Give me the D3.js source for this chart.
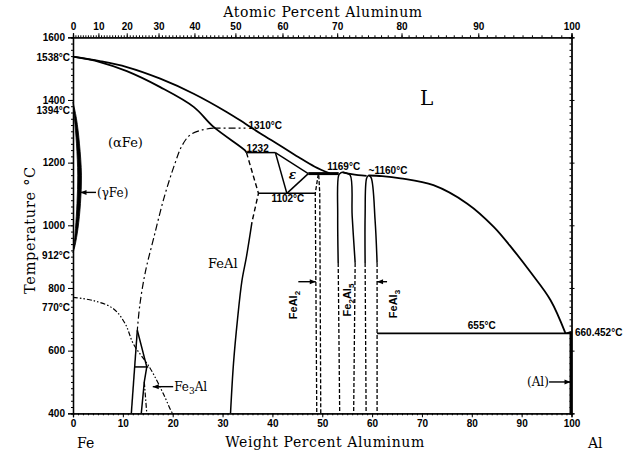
<!DOCTYPE html>
<html><head><meta charset="utf-8">
<script src="https://cdn.jsdelivr.net/npm/d3@7"></script>
<style>body{margin:0;background:#fff}</style>
</head><body><svg id="c" width="635" height="457"></svg>
<script>
// ---------- data ----------
const wtTicks = [0,10,20,30,40,50,60,70,80,90,100];
const atTicks = [0,10,20,30,40,50,60,70,80,90,100];
const tTicks  = [400,600,800,1000,1200,1400,1600];
const MFe = 55.845, MAl = 26.982;
const at2wt = a => 100*a*MAl/(a*MAl+(100-a)*MFe);

const liquidusLeft = [[0,1538],[5.4,1524],[10.8,1505],[17.5,1468],[24.2,1420],[30.9,1361],[34.5,1325],[37.6,1293],[41.6,1254],[45.2,1218],[48.5,1187],[51.5,1166]];
const solidus = [[0,1538],[5.4,1521],[10.8,1492],[17.5,1441],[24.2,1378],[28.2,1314],[34.5,1239],[34.8,1232]];
const peritectic1232 = [[34.8,1232],[40.6,1232]];
const epsTop = [[40.6,1232],[47.2,1165]];
const epsLeft = [[40.6,1232],[42.9,1102]];
const epsRight = [[42.9,1102],[47.2,1165]];
const line1102 = [[37.2,1102],[48.6,1102]];
const eut1165 = [[47.2,1165],[53.3,1165]];
const feAlDashed = [[34.8,1232],[37.2,1102],[35.9,1010]];
const feAlSolid = [[35.9,1010],[34.8,900],[33.9,824],[33.0,700],[32.2,560],[31.6,400]];
const feAl2A = [[49.2,1163],[48.6,1102],[48.9,400]];
const feAl2B = [[49.3,1160],[49.5,1102],[49.7,400]];
const fe2al5 = [[53.2,880],[53.1,1030],[53.3,1160],[53.7,1167],[54.1,1169],[54.7,1167],[55.6,1160],[56.0,1030],[56.6,880]];
const fe2al5L = [[53.2,880],[53.5,400]];
const fe2al5R = [[56.6,880],[56.3,400]];
const feal3 = [[58.6,880],[58.6,1030],[58.9,1150],[59.3,1159],[59.8,1152],[60.6,1016],[61.0,880]];
const feal3L = [[58.6,880],[58.8,400]];
const feal3R = [[61.0,880],[61.0,400]];
const liqMid = [[54.1,1169],[55.6,1164],[57.2,1160],[58.9,1158]];
const liquidusRight = [[59.3,1159],[62,1157],[65.7,1150],[72.3,1128],[79.1,1069],[84.4,995],[88.4,920],[91.8,850],[95.8,761],[98.8,655]];
const liqEnd = [[98.8,655],[100,660.452]];
const eut655 = [[61.0,655],[100,655]];
const alSolid = [[99.85,660],[99.85,400]];
const b2Top = [[28.2,1310],[34.6,1310]];
const b2Curve = [[28.2,1310],[25.8,1304],[23.4,1287],[21.8,1252],[20.4,1195],[18.3,1090],[16.2,960],[14.5,850],[13.4,745],[12.9,665]];
const fe3alL = [[12.9,665],[11.7,400]];
const fe3alR = [[12.9,665],[14.8,548],[14.3,500],[13.7,400]];
const line548 = [[12.3,548],[15.1,548]];
const fe3alDD = [[14.3,500],[14.8,400]];
const curie = [[0,770],[4,760],[8.1,734],[10.5,685],[12.1,622],[15.5,543],[18.1,463],[19.8,404],[20,400]];
const gammaOuter = [[0,1394],[0.7,1340],[1.3,1260],[1.7,1160],[1.5,1070],[1.0,990],[0.4,935],[0,912]];
const gammaInner = [[0,1394],[0.3,1340],[0.7,1260],[0.95,1160],[0.8,1070],[0.5,990],[0.2,935],[0,912]];

const leftTempLabels = [["1538°C",1538],["1394°C",1368],["912°C",906],["770°C",738]];

// ---------- scales ----------
const svg = d3.select("#c");
const x = d3.scaleLinear().domain([0,100]).range([73,571.5]);
const y = d3.scaleLinear().domain([400,1600]).range([413.3,37.3]);
const lin = d3.line().x(d=>x(d[0])).y(d=>y(d[1]));
const smooth = d3.line().x(d=>x(d[0])).y(d=>y(d[1])).curve(d3.curveCatmullRom.alpha(0.5));

const g = svg.append("g");
function draw(data, gen, w, dash){
  g.append("path").attr("d", gen(data)).attr("fill","none").attr("stroke","#000")
   .attr("stroke-width", w).attr("stroke-dasharray", dash||null).attr("stroke-linejoin","round");
}

// ---------- axes ----------
const tickFont = "bold 10px 'Liberation Sans', Arial, sans-serif";
function styleAxis(sel){
  sel.select(".domain").attr("stroke","#000").attr("stroke-width",1.3);
  sel.selectAll(".tick line").attr("stroke","#000").attr("stroke-width",1);
  sel.selectAll(".tick text").style("font", tickFont).attr("fill","#000");
}
svg.append("g").attr("transform","translate(0,413.3)")
  .call(d3.axisBottom(x).tickValues(d3.range(0,101,1)).tickSize(2).tickFormat(""))
  .call(styleAxis);
svg.append("g").attr("transform","translate(0,413.3)")
  .call(d3.axisBottom(x).tickValues(wtTicks).tickSize(4).tickPadding(3).tickFormat(d3.format("d")))
  .call(styleAxis);
svg.append("g").attr("transform","translate(0,37.3)")
  .call(d3.axisTop(x).tickValues(d3.range(0,101,1).map(at2wt)).tickSize(2).tickFormat(""))
  .call(styleAxis);
svg.append("g").attr("transform","translate(0,37.3)")
  .call(d3.axisTop(x).tickValues(atTicks.map(at2wt)).tickSize(4).tickPadding(3).tickFormat((d,i)=>atTicks[i]))
  .call(styleAxis);
svg.append("g").attr("transform","translate(73,0)")
  .call(d3.axisLeft(y).tickValues(d3.range(400,1601,20)).tickSize(2).tickFormat(""))
  .call(styleAxis);
svg.append("g").attr("transform","translate(73,0)")
  .call(d3.axisLeft(y).tickValues(tTicks).tickSize(5).tickPadding(3).tickFormat(d3.format("d")))
  .call(styleAxis);
svg.append("g").attr("transform","translate(571.5,0)")
  .call(d3.axisLeft(y).tickValues(d3.range(400,1601,20)).tickSize(2).tickFormat(""))
  .call(styleAxis);
svg.append("g").attr("transform","translate(571.5,0)")
  .call(d3.axisRight(y).tickValues(tTicks).tickSize(3).tickFormat(""))
  .call(styleAxis);

// ---------- phase boundaries ----------
g.append("path").attr("d", smooth(gammaOuter) + "L" + smooth(gammaInner.slice().reverse()).slice(1) + "Z")
  .attr("fill","#000").attr("stroke","#000").attr("stroke-width",0.8);

draw(liquidusLeft, smooth, 1.8);
draw(solidus, smooth, 1.8);
draw(peritectic1232, lin, 1.5);
draw(epsTop, lin, 1.4);
draw(epsLeft, lin, 1.5);
draw(epsRight, lin, 1.5);
draw(line1102, lin, 1.5);
draw(eut1165, lin, 3);
draw(feAlDashed, lin, 1.4, "5,3");
draw(feAlSolid, smooth, 1.5);
draw(feAl2A, lin, 1.3, "4,2");
draw(feAl2B, lin, 1.3, "4,2");
draw(fe2al5, smooth, 1.5);
draw(fe2al5L, lin, 1.3, "4,2");
draw(fe2al5R, lin, 1.3, "4,2");
draw(feal3, smooth, 1.5);
draw(feal3L, lin, 1.3, "4,2");
draw(feal3R, lin, 1.3, "4,2");
draw(liqMid, smooth, 1.8);
draw(liquidusRight, smooth, 1.8);
draw(liqEnd, lin, 1.5);
draw(eut655, lin, 1.7);
draw(alSolid, lin, 2.5);
draw(b2Top, lin, 1.2, "7,3,2,3");
draw(b2Curve, smooth, 1.2, "7,3,2,3");
draw(fe3alL, lin, 1.5);
draw(fe3alR, lin, 1.5);
draw(line548, lin, 1.5);
draw(fe3alDD, lin, 1.2, "5,2,1.5,2");
draw(curie, smooth, 1.2, "5,2,1.5,2,1.5,2");

// ---------- arrows ----------
function arrow(x1,y1,x2,y2){
  g.append("line").attr("x1",x1).attr("y1",y1).attr("x2",x2).attr("y2",y2).attr("stroke","#000").attr("stroke-width",1.4);
  const dir = Math.sign(x2-x1);
  g.append("path").attr("d",`M${x2},${y2}L${x2-dir*6},${y2-2.5}L${x2-dir*6},${y2+2.5}Z`).attr("fill","#000");
}
arrow(96, y(1105), x(1.5), y(1105));
arrow(x(45.2), y(820), x(48.7), y(820));
arrow(x(63.0), y(820), x(61.0), y(820));
arrow(x(20.1), y(485), x(16.0), y(485));
arrow(x(95.5), y(500), x(99.8), y(500));

// ---------- texts ----------
const serif = "'DejaVu Serif', serif";
const sansB = "bold 10px 'Liberation Sans', Arial, sans-serif";
function txt(t, px, py, font, anchor, rot){
  const e = svg.append("text").attr("x",px).attr("y",py).style("font",font).attr("fill","#000")
    .attr("text-anchor",anchor||"start").text(t);
  if(rot) e.attr("transform",`rotate(${rot},${px},${py})`);
  return e;
}
txt("Atomic Percent Aluminum", 323, 17, `14px ${serif}`, "middle").attr("letter-spacing","0.6");
txt("Weight Percent Aluminum", 325, 447, `14px ${serif}`, "middle").attr("letter-spacing","0.6");
txt("Temperature °C", 35, 230, `14.5px ${serif}`, "middle", -90).attr("letter-spacing","0.7");
txt("Fe", 77, 448, `14px ${serif}`);
txt("Al", 588, 448, `14px ${serif}`);
leftTempLabels.forEach(d=> txt(d[0], 70, y(d[1])+4, sansB, "end"));
txt("1310°C", x(35.2), y(1310)+1, sansB);
txt("1232", x(34.8), y(1232)-1, sansB);
txt("1102°C", x(39.8), y(1102)+9, sansB);
txt("1169°C", x(51), y(1169)-2, sansB);
txt("~1160°C", x(59.3), y(1160)-1, sansB);
txt("655°C", x(79.2), y(655)-4, sansB);
txt("660.452°C", 575, y(660.452)+4, sansB);
txt("L", 420, 105, `20px ${serif}`);
txt("(αFe)", 108, 147, `13px ${serif}`);
txt("(γFe)", 97, 197, `12px ${serif}`);
txt("FeAl", 208, 268, `13px ${serif}`);
txt("ε", x(43.3), y(1160)+4, `italic bold 12px ${serif}`);
const f3 = txt("Fe", x(20.3), y(485)+4, `12px ${serif}`);
f3.append("tspan").text("3").attr("dy",3).style("font-size","9px");
f3.append("tspan").text("Al").attr("dy",-3);
txt("(Al)", 527, y(500)+4, `12px ${serif}`);
function rotLabel(parts, px, py){
  const t = svg.append("text").attr("x",px).attr("y",py).style("font","bold 11px 'Liberation Sans', Arial, sans-serif")
    .attr("text-anchor","middle").attr("transform",`rotate(-90,${px},${py})`);
  let shifted = false;
  parts.forEach(p=>{
    const s = t.append("tspan").text(p[0]);
    if(p[1] && !shifted){ s.attr("dy",3).style("font-size","8px"); shifted = true; }
    else if(!p[1] && shifted){ s.attr("dy",-3); shifted = false; }
    else if(p[1]) s.style("font-size","8px");
  });
}
rotLabel([["FeAl"],["2",1]], 297, 305);
rotLabel([["Fe"],["2",1],["Al"],["5",1]], 351, 300);
rotLabel([["FeAl"],["3",1]], 397, 304);
</script>
</body></html>
